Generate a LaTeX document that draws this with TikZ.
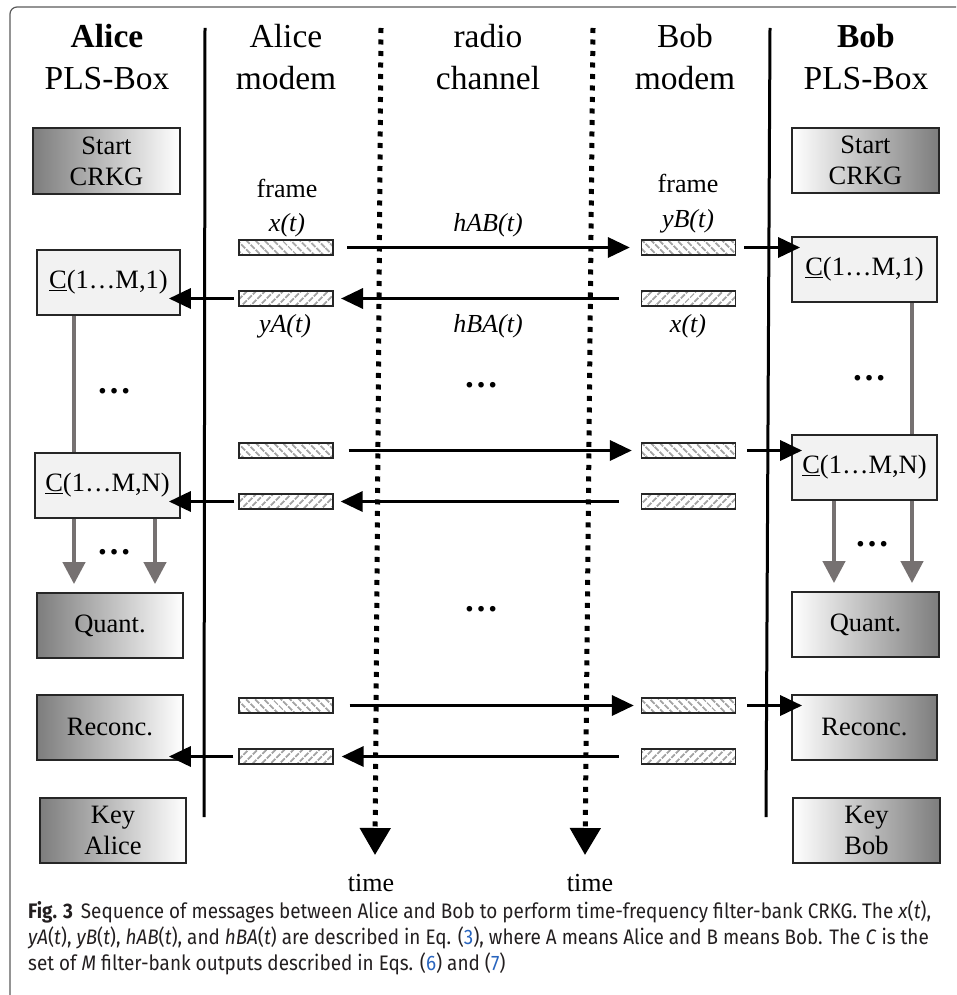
\documentclass[tikz,border=0pt]{standalone}
\usepackage{fontspec}
\setmainfont{Liberation Serif}
\newfontfamily\capfont[FakeStretch=0.9]{Fira Sans}
\usetikzlibrary{arrows.meta,patterns.meta,calc}
\definecolor{frameGray}{RGB}{90,90,90}
\definecolor{arrGray}{RGB}{118,113,113}
\definecolor{gradDark}{RGB}{125,125,125}
\definecolor{cFill}{RGB}{242,242,242}
\definecolor{hatchGray}{RGB}{165,165,165}
\definecolor{capBlue}{RGB}{40,100,190}
\definecolor{capText}{RGB}{35,31,32}
\newcommand\hdrfont{\fontsize{33.5}{42}\selectfont}
\newcommand\boxfont{\fontsize{26.5}{31}\selectfont}
\newcommand\lblfont{\fontsize{26}{31}\selectfont}
\newcommand\dotfont{\fontsize{34.5}{34.5}\selectfont\bfseries}
\newcommand\capsize{\fontsize{21}{26}\selectfont}
\begin{document}
\begin{tikzpicture}[x=1pt,y=-1pt,
  box/.style={draw=black!85, line width=1.8pt, inner sep=0pt, align=center, font=\boxfont, minimum width=146pt, minimum height=65pt},
  gradA/.style={box, left color=gradDark, right color=white},
  gradB/.style={box, left color=white, right color=gradDark},
  cbox/.style={box, fill=cFill},
  frmF/.style={draw=black!85, line width=1.3pt, minimum width=94pt, minimum height=15pt, inner sep=0pt, pattern={Lines[angle=-45,distance=6.5pt,line width=2pt]}, pattern color=hatchGray},
  frmB/.style={draw=black!85, line width=1.3pt, minimum width=94pt, minimum height=15pt, inner sep=0pt, pattern={Lines[angle=45,distance=6.5pt,line width=2pt]}, pattern color=hatchGray},
  hdr/.style={anchor=base, font=\hdrfont, inner sep=0pt},
  lbl/.style={anchor=base, font=\lblfont, inner sep=0pt},
  ilbl/.style={anchor=base, font=\lblfont\itshape, inner sep=0pt},
  dots/.style={font=\dotfont, inner sep=0pt},
  sepline/.style={line width=3pt, black},
  timeline/.style={line width=5pt, dash pattern=on 5pt off 6.5pt, -{Triangle[length=27pt,width=30pt]}},
  msg/.style={line width=3.5pt, -{Triangle[length=22pt,width=20pt]}},
  gline/.style={arrGray, line width=4.3pt},
  garrow/.style={arrGray, line width=4.3pt, -{Triangle[length=22pt,width=22pt]}},
  captxt/.style={anchor=base west, inner sep=0pt, font=\capfont\capsize, text=capText}
]
\useasboundingbox (0,0) rectangle (956,995);
% outer frame
\draw[frameGray, line width=1.2pt, rounded corners=7pt] (10,995) -- (10,7) -- (956,7);

% headers
\node[hdr,font=\hdrfont\bfseries] (hA1) at (107,48) {Alice};
\node[hdr] (hA2) at (107,90) {PLS-Box};
\node[hdr] (hM1) at (286,48) {Alice};
\node[hdr] (hM2) at (286,90) {modem};
\node[hdr] (hR1) at (488,48) {radio};
\node[hdr] (hR2) at (488,90) {channel};
\node[hdr] (hN1) at (685,48) {Bob};
\node[hdr] (hN2) at (685,90) {modem};
\node[hdr,font=\hdrfont\bfseries] (hB1) at (866,48) {Bob};
\node[hdr] (hB2) at (866,90) {PLS-Box};

% separators
\coordinate (sA0) at (205,28); \coordinate (sA1) at (204,817);
\coordinate (sB0) at (770,28); \coordinate (sB1) at (766,817);
\draw[sepline] (sA0) -- (sA1);
\draw[sepline] (sB0) -- (sB1);

% time lines
\coordinate (tA0) at (381,28); \coordinate (tA1) at (375,855);
\coordinate (tB0) at (593,28); \coordinate (tB1) at (585,855);
\draw[timeline] (tA0) -- (tA1);
\draw[timeline] (tB0) -- (tB1);
\node[lbl] (tmA) at (371,891) {time};
\node[lbl] (tmB) at (590,891) {time};

% Alice boxes
\node[gradA, minimum width=147pt, minimum height=66pt] (startA) at (106.5,161) {Start\\CRKG};
\node[cbox, minimum width=143pt] (c1A) at (108.5,282.5) {\underline{C}(1…M,1)};
\node[cbox, minimum width=145pt] (cNA) at (107.5,485.5) {\underline{C}(1…M,N)};
\node[gradA] (quantA) at (110,625.5) {Quant.};
\node[gradA] (recA) at (110,727.5) {Reconc.};
\node[gradA] (keyA) at (113,830.5) {Key\\Alice};

% Bob boxes
\node[gradB, minimum width=147pt] (startB) at (865.5,160.5) {Start\\CRKG};
\node[cbox, minimum width=145pt] (c1B) at (864.5,269.5) {\underline{C}(1…M,1)};
\node[cbox, minimum width=145pt] (cNB) at (864.5,467.5) {\underline{C}(1…M,N)};
\node[gradB, minimum width=147pt] (quantB) at (865.5,624.5) {Quant.};
\node[gradB, minimum width=145pt] (recB) at (864.5,727.5) {Reconc.};
\node[gradB, minimum width=147pt] (keyB) at (866.5,830.5) {Key\\Bob};

% frames
\node[frmF] (fA1) at (286,247.5) {};
\node[frmB] (gA1) at (286,298.5) {};
\node[frmF] (fB1) at (688.5,247.5) {};
\node[frmB] (gB1) at (688.5,298.5) {};
\node[frmF] (fA2) at (286,450.5) {};
\node[frmB] (gA2) at (286,501.5) {};
\node[frmF] (fB2) at (688.5,450.5) {};
\node[frmB] (gB2) at (688.5,501.5) {};
\node[frmF] (fA3) at (286,705.5) {};
\node[frmB] (gA3) at (286,756.5) {};
\node[frmF] (fB3) at (688.5,705.5) {};
\node[frmB] (gB3) at (688.5,756.5) {};

% labels
\node[lbl] (lfA) at (287,197) {frame};
\node[ilbl] (lxA) at (287,231) {x(t)};
\node[ilbl] (lhAB) at (488,231) {hAB(t)};
\node[lbl] (lfB) at (688,193) {frame};
\node[ilbl] (lyB) at (688,227) {yB(t)};
\node[ilbl] (lyA) at (285,332) {yA(t)};
\node[ilbl] (lhBA) at (488,332) {hBA(t)};
\node[ilbl] (lxB) at (688,332) {x(t)};

% messages pair 1
\draw[msg] ($(fA1.east)+(13,0)$) -- ($(fB1.west)+(-11,0)$);
\draw[msg] ($(fB1.east)+(8,0)$) -- ($(fB1.east -| c1B.west)+(9,0)$);
\draw[msg] ($(gB1.west)+(-22,0)$) -- ($(gA1.east)+(7,0)$);
\draw[msg] ($(gA1.west)+(-4,0)$) -- ($(gA1.west -| c1A.east)+(-12,0)$);
% pair 2
\draw[msg] ($(fA2.east)+(15,0)$) -- ($(fB2.west)+(-9,0)$);
\draw[msg] ($(fB2.east)+(11,0)$) -- ($(fB2.east -| cNB.west)+(11,0)$);
\draw[msg] ($(gB2.west)+(-22,0)$) -- ($(gA2.east)+(7,0)$);
\draw[msg] ($(gA2.west)+(-4,0)$) -- ($(gA2.west -| cNA.east)+(-12,0)$);
% pair 3
\draw[msg] ($(fA3.east)+(16,0)$) -- ($(fB3.west)+(-7,0)$);
\draw[msg] ($(fB3.east)+(11,0)$) -- ($(fB3.east -| recB.west)+(11,0)$);
\draw[msg] ($(gB3.west)+(-22,0)$) -- ($(gA3.east)+(8,0)$);
\draw[msg] ($(gA3.west)+(-5,0)$) -- ($(gA3.west -| recA.east)+(-15,0)$);

% gray connectors
\draw[gline] ($(c1A.south)+(-34.5,0)$) -- ($(cNA.north)+(-33.5,0)$);
\draw[garrow] ($(cNA.south)+(-33.5,0)$) -- ($(quantA.north -| cNA.south)+(-33.5,-8)$);
\draw[garrow] ($(cNA.south)+(47.5,0)$) -- ($(quantA.north -| cNA.south)+(47.5,-8)$);
\draw[gline] ($(c1B.south)+(47.5,0)$) -- ($(cNB.north)+(47.5,0)$);
\draw[garrow] ($(cNB.south)+(-30.5,0)$) -- ($(quantB.north -| cNB.south)+(-30.5,-8)$);
\draw[garrow] ($(cNB.south)+(47.5,0)$) -- ($(quantB.north -| cNB.south)+(47.5,-8)$);

% ellipses
\node[dots] (dA1) at (114,391) {…};
\node[dots] (dA2) at (114,552) {…};
\node[dots] (dM1) at (481,385) {…};
\node[dots] (dM2) at (481,609) {…};
\node[dots] (dB1) at (869,378) {…};
\node[dots] (dB2) at (872,544) {…};

% caption
\node[captxt] (cap1) at (28,918) {\textbf{Fig. 3}\hspace{8pt}Sequence of messages between Alice and Bob to perform time-frequency filter-bank CRKG. The \textit{x}(\textit{t}),};
\node[captxt] (cap2) at (28,944) {\textit{yA}(\textit{t}), \textit{yB}(\textit{t}), \textit{hAB}(\textit{t}), and \textit{hBA}(\textit{t}) are described in Eq. (\textcolor{capBlue}{3}), where A means Alice and B means Bob. The \textit{C} is the};
\node[captxt] (cap3) at (28,970) {set of \textit{M} filter-bank outputs described in Eqs. (\textcolor{capBlue}{6}) and (\textcolor{capBlue}{7})};
\end{tikzpicture}
\end{document}
